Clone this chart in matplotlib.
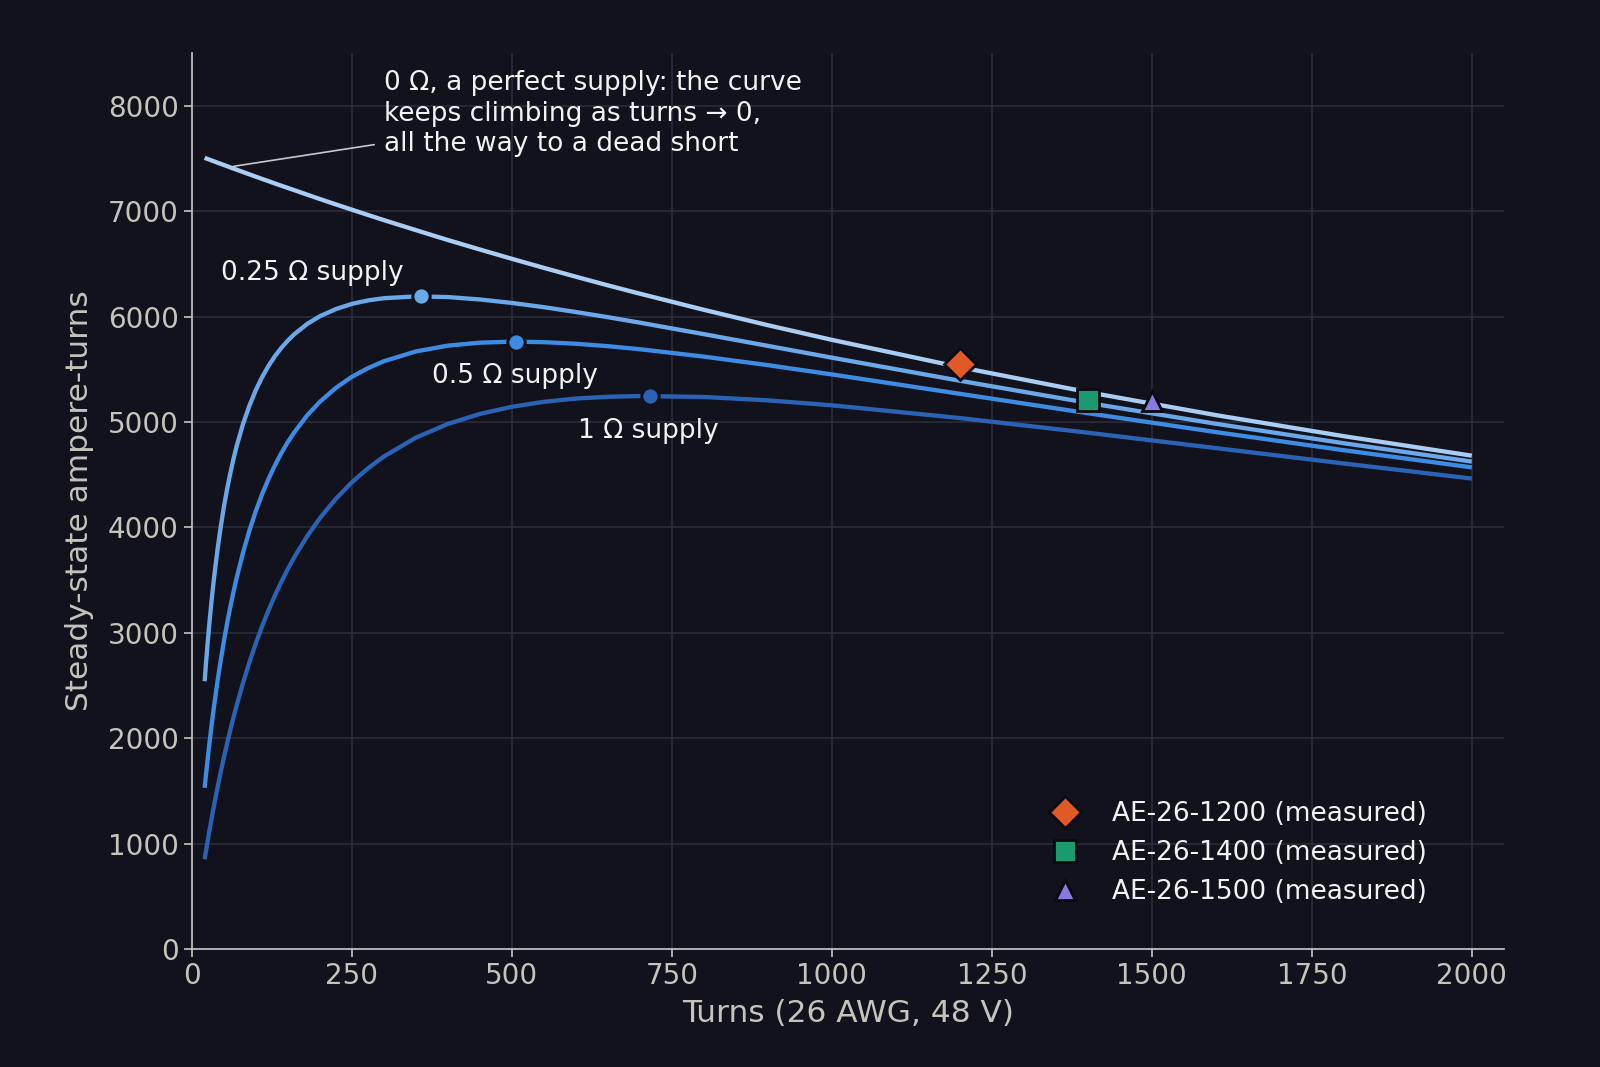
import matplotlib
matplotlib.use("Agg")
import matplotlib.pyplot as plt

# values
turns = [20, 22, 25, 27, 30, 33, 35, 40, 45, 50, 55, 60, 65, 70, 80, 90, 100,
         110, 120, 130, 140, 150, 160, 180, 200, 225, 250, 275, 300, 350, 400,
         450, 500, 550, 600, 650, 700, 800, 900, 1000, 1200, 1400, 1600, 1800, 2000]

at_0ohm = [7506, 7501, 7494, 7490, 7483, 7476, 7472, 7460, 7449, 7438, 7427,
           7415, 7404, 7393, 7371, 7349, 7327, 7305, 7284, 7262, 7241, 7220,
           7199, 7157, 7115, 7064, 7014, 6964, 6915, 6820, 6726, 6636, 6548,
           6462, 6378, 6296, 6217, 6064, 5918, 5779, 5520, 5283, 5065, 4865, 4680]
at_025ohm = [2540, 2702, 2926, 3063, 3255, 3429, 3538, 3784, 4000, 4191, 4360,
             4511, 4647, 4770, 4981, 5156, 5303, 5428, 5534, 5626, 5704, 5772,
             5832, 5929, 6003, 6071, 6120, 6153, 6174, 6191, 6185, 6162, 6129,
             6089, 6043, 5994, 5942, 5833, 5722, 5610, 5391, 5181, 4983, 4798, 4624]
at_05ohm = [1529, 1648, 1818, 1926, 2080, 2225, 2318, 2535, 2734, 2917, 3086,
            3242, 3386, 3520, 3761, 3971, 4155, 4318, 4462, 4591, 4706, 4809,
            4901, 5061, 5191, 5323, 5428, 5510, 5576, 5669, 5724, 5752, 5762,
            5757, 5742, 5719, 5690, 5620, 5539, 5451, 5267, 5083, 4904, 4732, 4569]
at_1ohm = [851, 926, 1034, 1105, 1208, 1307, 1372, 1527, 1674, 1815, 1948,
           2074, 2195, 2310, 2525, 2721, 2900, 3065, 3216, 3356, 3485, 3605,
           3716, 3914, 4087, 4271, 4427, 4559, 4672, 4851, 4981, 5076, 5144,
           5191, 5222, 5239, 5246, 5237, 5205, 5158, 5037, 4898, 4752, 4606, 4463]

peak_turns = [358, 506, 716]
peak_at = [6191, 5762, 5247]

measured_names = ['AE-26-1200 (measured)', 'AE-26-1400 (measured)', 'AE-26-1500 (measured)']
measured_turns = [1200, 1400, 1500]
measured_at = [5550, 5211, 5195]

bg = '#11121c'
c0 = '#a9cdf3'
c025 = '#6aa8ea'
c05 = '#3e8be4'
c1 = '#2a63b4'
curve_colors = [c0, c025, c05, c1]
peak_colors = [c025, c05, c1]
measured_colors = ['#e05a28', '#1a9a6e', '#8a7ae0']
measured_markers = ['D', 's', '^']
measured_sizes = [16.5, 16, 15]

fig = plt.figure(figsize=(16, 10.67), dpi=100, facecolor=bg)
ax = fig.add_axes([0.1199, 0.1106, 0.820, 0.8397], facecolor=bg)

for series, col in zip([at_0ohm, at_025ohm, at_05ohm, at_1ohm], curve_colors):
    ax.plot(turns, series, color=col, lw=3.1, solid_capstyle='butt',
            solid_joinstyle='round', zorder=3)

for x, y, col in zip(peak_turns, peak_at, peak_colors):
    ax.plot(x, y, 'o', ms=12.5, color=col, mec=bg, mew=2.2, zorder=4)

for x, y, col, m, s, name in zip(measured_turns, measured_at, measured_colors,
                                  measured_markers, measured_sizes, measured_names):
    ax.plot(x, y, m, ms=s, color=col, mec='#0a0a10', mew=2, zorder=5,
            linestyle='none', label=name)

txt_col = '#f2f2f2'
ax.annotate('0 \u03a9, a perfect supply: the curve\nkeeps climbing as turns \u2192 0,\nall the way to a dead short',
            xy=(65, 7425), xytext=(300, 7925), ha='left', va='center',
            fontsize=19, color=txt_col, linespacing=1.22,
            arrowprops=dict(arrowstyle='-', color='#c8c8c8', lw=1.2,
                            relpos=(0, 0.16), shrinkA=5, shrinkB=0))
ax.text(45, 6410, '0.25 \u03a9 supply', fontsize=19, color=txt_col, va='center')
ax.text(376, 5433, '0.5 \u03a9 supply', fontsize=19, color=txt_col, va='center')
ax.text(604, 4910, '1 \u03a9 supply', fontsize=19, color=txt_col, va='center')

ax.set_xlim(0, 2050)
ax.set_ylim(0, 8500)
ax.set_xticks([0, 250, 500, 750, 1000, 1250, 1500, 1750, 2000])
ax.set_yticks([0, 1000, 2000, 3000, 4000, 5000, 6000, 7000, 8000])
ax.grid(True, color='#2d2e3d', lw=1.1, zorder=0)
ax.set_axisbelow(True)

tick_col = '#c4c4bc'
ax.tick_params(colors=tick_col, labelsize=20, length=6, width=1.2)
for side in ['top', 'right']:
    ax.spines[side].set_visible(False)
for side in ['left', 'bottom']:
    ax.spines[side].set_color('#c8c8c8')
    ax.spines[side].set_linewidth(1.2)

ax.set_xlabel('Turns (26 AWG, 48 V)', fontsize=22.5, color=tick_col, labelpad=6)
ax.set_ylabel('Steady-state ampere-turns', fontsize=22.5, color=tick_col, labelpad=10)

leg = ax.legend(loc='lower right', bbox_to_anchor=(0.9495, 0.037), frameon=False,
                fontsize=19, handletextpad=0.8, labelspacing=0.5, borderaxespad=0)
for t in leg.get_texts():
    t.set_color(txt_col)

fig.savefig('out.png', dpi=100, facecolor=bg)
